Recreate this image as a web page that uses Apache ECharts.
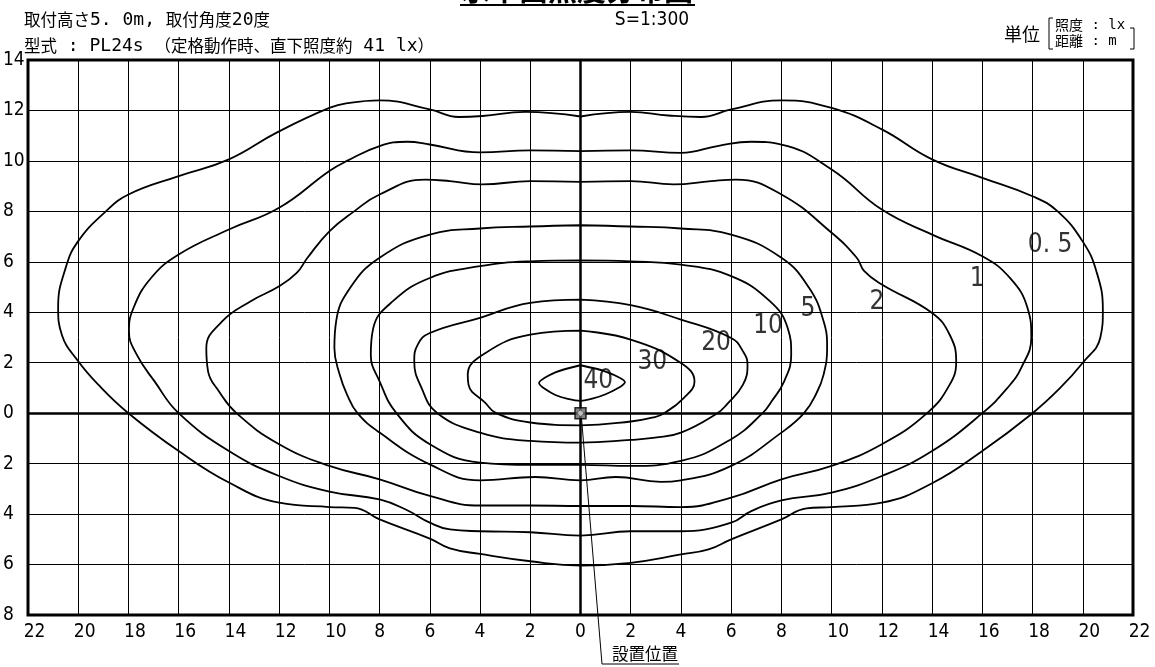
<!DOCTYPE html>
<html>
<head>
<meta charset="utf-8">
<script src="https://cdn.jsdelivr.net/npm/echarts@6/dist/echarts.min.js"></script>
<style>
html, body { margin: 0; padding: 0; background: #fff; }
#isolux-chart { width: 1155px; height: 667px; }
</style>
</head>
<body>
<div id="isolux-chart"></div>
<script>
// isolux contours (m), each loop closed
const lux05 = [[0,11.76],[2,11.94],[3.5,11.8],[4.8,11.74],[6,12.04],[8,12.4],[10,12.1],[12,11.25],[14,10.06],[16,9.33],[18,8.6],[19,8.0],[20,6.8],[20.55,5.6],[20.8,4.1],[20.7,3.0],[20,2.0],[19.1,1.0],[18,0],
  [16,-1.5],[14,-2.78],[12,-3.55],[10,-3.72],[9,-3.77],[8,-4.21],[6,-5.0],[5.1,-5.4],[4,-5.6],[2,-5.93],[0,-6.04],
  [-2,-5.87],[-4,-5.58],[-5.2,-5.36],[-6,-4.97],[-8,-4.21],[-9,-3.75],[-10,-3.72],[-12,-3.55],[-14,-2.75],[-16,-1.5],[-18,0],
  [-19.2,1.13],[-20,2.06],[-20.65,3.1],[-20.8,4.2],[-20.5,5.76],[-20,6.82],[-18.9,8.0],[-18,8.67],[-16,9.4],[-14,10.06],[-12.1,11.12],[-10,12.1],[-9.2,12.3],[-8,12.4],[-6,12.04],[-4.85,11.74],[-3.9,11.78],[-2.2,11.94],[0,11.76]];
const lux1 = [[0,10.39],[2,10.42],[4,10.32],[5.5,10.6],[6.8,10.76],[8,10.65],[10,9.66],[12,8.07],[14,7.08],[16,6.22],[17.1,5.36],[17.8,4.17],[17.95,3.0],[17.55,1.8],[17,1.0],[16,0],
  [14,-1.5],[12,-2.49],[10,-3.15],[8,-3.46],[6.8,-3.88],[6,-4.34],[4,-4.68],[2,-4.68],[0,-4.85],
  [-2,-4.72],[-4,-4.68],[-5.2,-4.61],[-6,-4.34],[-6.9,-3.85],[-8,-3.42],[-10,-3.11],[-12,-2.49],[-14,-1.5],[-16,0],
  [-16.96,1.26],[-17.67,2.32],[-17.98,3.25],[-17.8,4.17],[-17.1,5.36],[-16,6.29],[-14,7.28],[-12,8.14],[-10,9.6],[-9.3,10.0],[-8,10.59],[-6.9,10.76],[-6,10.65],[-4,10.34],[-2,10.42],[0,10.39]];
const lux2 = [[0,9.17],[2,9.2],[3.7,9.07],[5.2,9.2],[6.2,9.26],[8,8.67],[10,7.15],[11,6.16],[11.3,5.63],[12,5.1],[14,3.97],[14.7,3.11],[14.96,2.06],[14.7,1.13],[13.8,0],
  [12,-1.23],[10,-2.09],[8,-2.62],[6,-3.35],[4,-3.72],[2,-3.68],[0,-3.68],
  [-2,-3.66],[-4,-3.66],[-6,-3.28],[-8,-2.62],[-10,-2.09],[-12,-1.23],[-13.7,0],
  [-14.4,0.87],[-14.83,1.66],[-14.9,2.58],[-14.27,3.64],[-13.13,4.44],[-12,5.03],[-11.3,5.56],[-10.87,6.16],[-10,7.21],[-9,8.01],[-8,8.67],[-6.2,9.26],[-5.2,9.2],[-3.9,9.07],[-2,9.2],[0,9.17]];
const lux5 = [[0,7.45],[2,7.4],[4,7.32],[6,7.08],[8,6.16],[9.1,4.97],[9.68,3.64],[9.82,2.58],[9.68,1.53],[9.4,0.8],[8.9,0],
  [8,-0.77],[6,-2.09],[4,-2.66],[3.2,-2.72],[1.4,-2.53],[0,-2.66],[-1.8,-2.53],[-4,-2.66],[-6,-2.03],[-8,-0.77],[-8.88,0],
  [-9.3,0.75],[-9.59,1.53],[-9.8,2.58],[-9.73,3.64],[-9.17,4.97],[-8,6.16],[-6,7.08],[-4,7.32],[-2,7.4],[0,7.45]];
const lux10 = [[0,6.06],[2,6.02],[4,5.89],[6,5.43],[7.54,4.44],[8.25,3.38],[8.39,2.32],[8.11,1.26],[7.61,0.47],[7.25,0],
  [6,-1.03],[4,-1.89],[2,-2.09],[0,-2.05],[-2,-2.05],[-4,-1.96],[-6,-1.23],[-7.33,0],
  [-8,1.26],[-8.35,2.32],[-8.25,3.38],[-7.47,4.44],[-6,5.36],[-4,5.83],[-2,6.02],[0,6.06]];
const lux20 = [[0,4.5],[2,4.28],[4,3.71],[6,2.98],[6.47,2.45],[6.65,1.92],[6.47,1.13],[5.82,0.34],[5.45,0],
  [4,-0.77],[2.97,-0.97],[2,-1.06],[0,-1.17],[-2,-1.1],[-4,-0.77],[-5.7,0],
  [-6.33,1.0],[-6.62,2.06],[-6.48,2.72],[-6,3.18],[-4,3.78],[-2,4.37],[0,4.5]];
const lux30 = [[0,3.27],[2,2.92],[4,1.99],[4.54,1.26],[4.11,0.6],[3.33,0],
  [2.9,-0.17],[2,-0.33],[0,-0.48],[-2,-0.37],[-3.36,0],
  [-3.78,0.4],[-4.46,1.13],[-4.49,1.53],[-3.78,2.39],[-2,3.11],[0,3.27]];
const lux40 = [[0,1.9],[1.0,1.65],[1.77,1.23],[1.0,0.75],[0,0.49],[-1.0,0.72],[-1.65,1.2],[-1.0,1.62],[0,1.9]];

const contours = [lux05, lux1, lux2, lux5, lux10, lux20, lux30, lux40];
const levelNames = ['0. 5', '1', '2', '5', '10', '20', '30', '40'];
const levelLabelAt = [[18.7,6.67],[15.8,5.3],[11.8,4.4],[9.06,4.13],[7.47,3.45],[5.4,2.78],[2.86,2.02],[0.71,1.27]];
const lampAt = [0, 0];

const narrow = "'Liberation Sans Narrow', 'DejaVu Sans Condensed', sans-serif";
const mono = "'DejaVu Sans Mono', 'Liberation Mono', monospace";
const jp = "'Noto Sans CJK JP', sans-serif";

const tickText = v => {
  const a = Math.abs(v);
  return a >= 10 ? '{w|' + a + '}' : '{n|' + a + '}';
};

const contourSeries = contours.map((pts, i) => ({
  type: 'line',
  data: pts,
  smooth: i === 7 ? 0.25 : 0.45,
  symbol: 'none',
  silent: true,
  lineStyle: { color: '#000', width: 1.8 },
  z: 3
}));

const chart = echarts.init(document.getElementById('isolux-chart'));

const options = {
  animation: false,
  backgroundColor: '#fff',
  grid: {
    left: 25, right: 22, top: 60, bottom: 52,
    show: true, borderColor: '#000', borderWidth: 3
  },
  xAxis: {
    type: 'value', min: -22, max: 22, interval: 2,
    axisLine: { show: false },
    axisTick: { show: false },
    splitLine: { show: true, lineStyle: { color: '#000', width: 1 } },
    axisLabel: {
      margin: 8, color: '#000', formatter: tickText,
      rich: {
        w: { fontFamily: narrow, fontSize: 19, color: '#000', padding: [0, 0, 0, 13] },
        n: { fontFamily: narrow, fontSize: 19, color: '#000' }
      }
    }
  },
  yAxis: {
    type: 'value', min: -8, max: 14, interval: 2,
    axisLine: { show: false },
    axisTick: { show: false },
    splitLine: { show: true, lineStyle: { color: '#000', width: 1 } },
    axisLabel: {
      margin: 25, align: 'left', color: '#000',
      fontFamily: narrow, fontSize: 19,
      formatter: v => String(Math.abs(v))
    }
  },
  series: contourSeries.concat([
    {
      // contour values
      type: 'scatter',
      symbolSize: 0,
      silent: true,
      data: levelLabelAt.map((p, i) => ({ value: p, name: levelNames[i] })),
      label: {
        show: true, position: 'inside', formatter: '{b}',
        fontFamily: narrow, fontSize: 26, color: '#000'
      },
      z: 5
    },
    {
      // lamp position + main axes
      type: 'scatter',
      silent: true,
      data: [lampAt],
      symbol: 'rect',
      symbolSize: 11,
      itemStyle: { color: '#666', borderColor: '#000', borderWidth: 1.5 },
      markLine: {
        silent: true,
        symbol: 'none',
        label: { show: false },
        lineStyle: { color: '#000', width: 2.5, type: 'solid' },
        data: [{ xAxis: 0 }, { yAxis: 0 }]
      },
      z: 6
    },
    {
      type: 'scatter',
      silent: true,
      data: [lampAt],
      symbol: 'diamond',
      symbolSize: 6,
      itemStyle: { color: '#ddd' },
      z: 7
    }
  ])
};

chart.setOption(options);

const p0 = chart.convertToPixel({ gridIndex: 0 }, lampAt);

const headRich = {
  c: { fontFamily: jp, fontSize: 16.5, fill: '#000' },
  a: { fontFamily: mono, fontSize: 18, fill: '#000' }
};
const unitRich = {
  c: { fontFamily: jp, fontSize: 14, fill: '#000' },
  a: { fontFamily: mono, fontSize: 14, fill: '#000' }
};

chart.setOption({
  graphic: [
    { type: 'text', x: 577, y: 4, style: { text: '水平面照度分布図', fontFamily: jp, fontSize: 29, fontWeight: 'bold', fill: '#000', textAlign: 'center', textVerticalAlign: 'bottom' } },
    { type: 'line', shape: { x1: 460, y1: 5, x2: 695, y2: 5 }, style: { stroke: '#000', lineWidth: 2 } },
    { type: 'text', x: 24, y: 20, style: { text: '{c|取付高さ}{a|5. 0m, }{c|取付角度}{a|20}{c|度}', rich: headRich, textVerticalAlign: 'middle' } },
    { type: 'text', x: 24, y: 46, style: { text: '{c|型式}{a| : PL24s }{c|（定格動作時、直下照度約}{a| 41 lx}{c|）}', rich: headRich, textVerticalAlign: 'middle' } },
    { type: 'text', x: 652, y: 20, style: { text: 'S=1:300', fontFamily: narrow, fontSize: 19, fill: '#000', textAlign: 'center', textVerticalAlign: 'middle' } },
    { type: 'text', x: 1022, y: 34, style: { text: '単位', fontFamily: jp, fontSize: 18, fill: '#000', textAlign: 'center', textVerticalAlign: 'middle' } },
    { type: 'text', x: 1055, y: 25, style: { text: '{c|照度}{a| : lx}', rich: unitRich, textVerticalAlign: 'middle' } },
    { type: 'text', x: 1055, y: 41, style: { text: '{c|距離}{a| : m}', rich: unitRich, textVerticalAlign: 'middle' } },
    { type: 'polyline', shape: { points: [[1053, 18], [1049, 18], [1049, 49], [1053, 49]] }, style: { stroke: '#000', lineWidth: 1, fill: null } },
    { type: 'polyline', shape: { points: [[1130, 28], [1134, 28], [1134, 49], [1130, 49]] }, style: { stroke: '#000', lineWidth: 1, fill: null } },
    { type: 'polyline', shape: { points: [[p0[0] + 1, p0[1] + 5], [602, 664], [679, 664]] }, style: { stroke: '#000', lineWidth: 1, fill: null } },
    { type: 'text', x: 645, y: 654, style: { text: '設置位置', fontFamily: jp, fontSize: 16.5, fill: '#000', textAlign: 'center', textVerticalAlign: 'middle' } }
  ]
});

window.addEventListener('resize', () => chart.resize(), false);
</script>
</body>
</html>
